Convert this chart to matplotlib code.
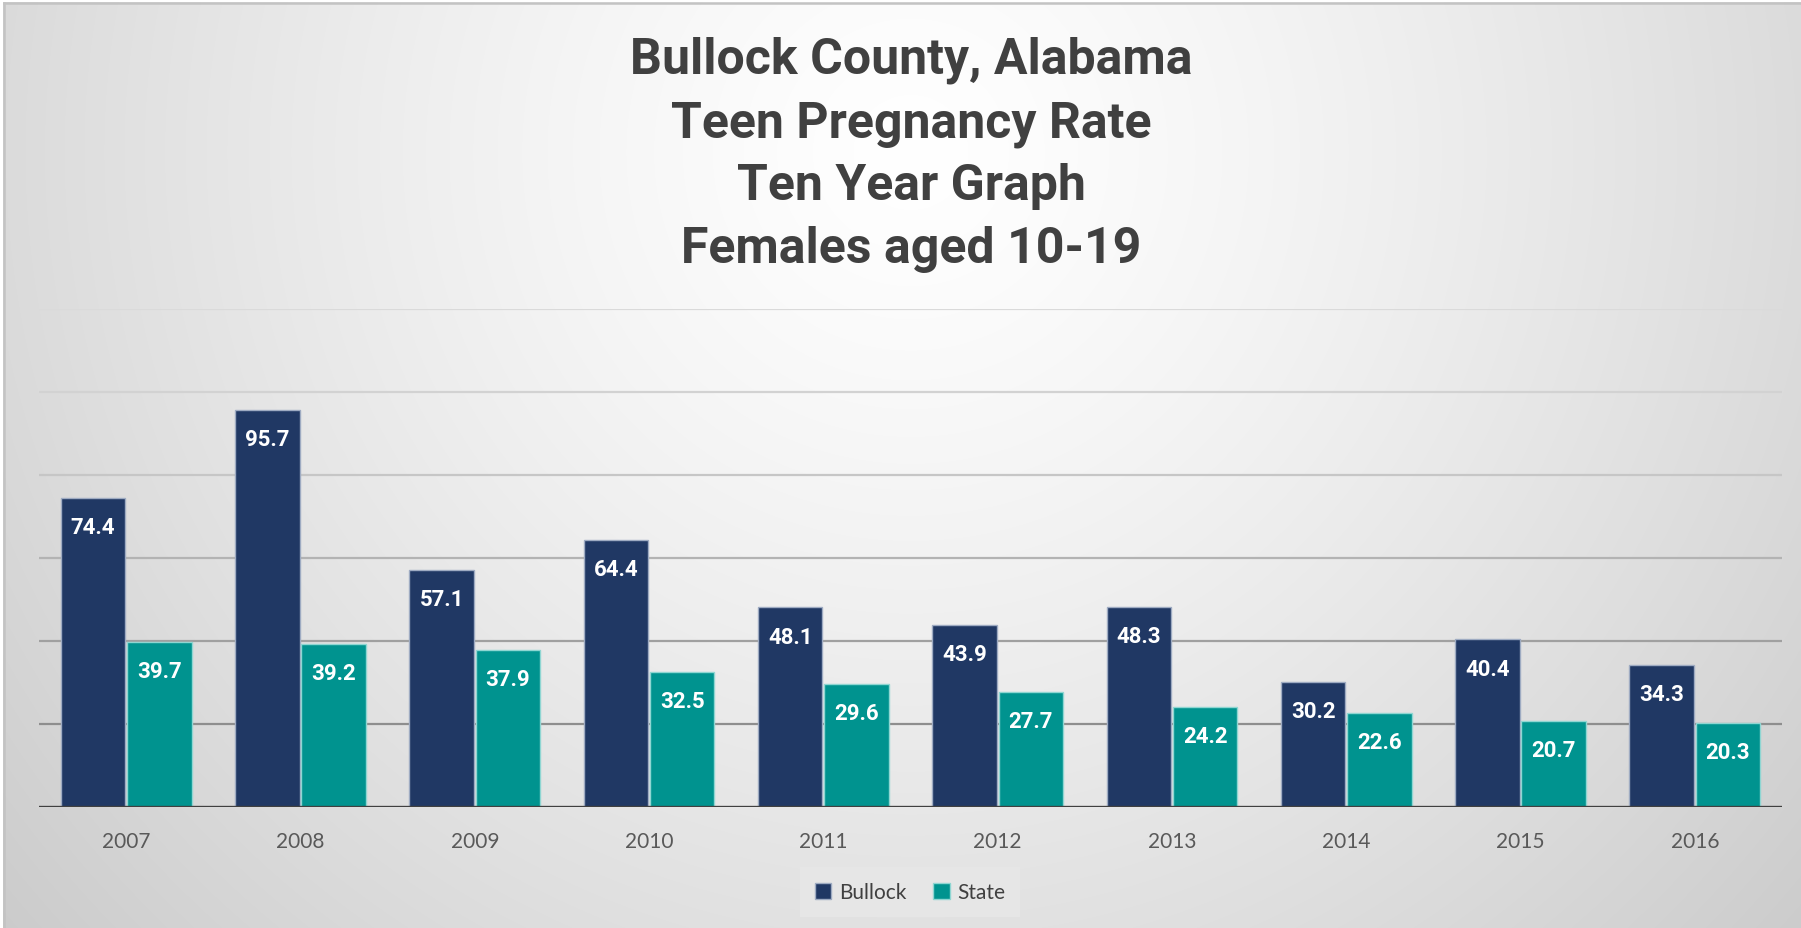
import numpy as np
import matplotlib
matplotlib.use("Agg")
import matplotlib.pyplot as plt
from matplotlib.patches import Patch
from matplotlib.lines import Line2D

# ---- data ----
years = ["2007", "2008", "2009", "2010", "2011", "2012", "2013", "2014", "2015", "2016"]
bullock = [74.4, 95.7, 57.1, 64.4, 48.1, 43.9, 48.3, 30.2, 40.4, 34.3]
state = [39.7, 39.2, 37.9, 32.5, 29.6, 27.7, 24.2, 22.6, 20.7, 20.3]
series_names = ["Bullock", "State"]
title_lines = ["Bullock County, Alabama", "Teen Pregnancy Rate", "Ten Year Graph", "Females aged 10-19"]
grid_values = [20, 40, 60, 80, 100, 120]

W, H = 1801, 929
fig = plt.figure(figsize=(W / 100, H / 100), dpi=100)
fig.patch.set_facecolor("white")

# ---- background gradient ----
bg = fig.add_axes([3 / W, 0, 1 - 3 / W, 1 - 3 / H])
bg.set_zorder(-10)
bg.axis("off")
yy, xx = np.mgrid[0:H - 3, 0:W - 3]
r = np.sqrt((xx - 907) ** 2 + ((yy - 150) * 1.0) ** 2)
val = 255 - 52 * np.clip(r / 1200, 0, 1.2) ** 1.3
img = np.dstack([val, val, val]) / 255.0
bg.imshow(np.clip(img, 0, 1), aspect="auto", extent=[0, 1, 0, 1], origin="upper", interpolation="bilinear")
bg.set_xlim(0, 1)
bg.set_ylim(0, 1)
# border lines (top and left)
fig.add_artist(Line2D([3.5 / W, 1], [1 - 4 / H, 1 - 4 / H], transform=fig.transFigure, color="#c3c3c3", lw=1.8))
fig.add_artist(Line2D([3.5 / W, 3.5 / W], [0, 1 - 4 / H], transform=fig.transFigure, color="#c3c3c3", lw=1.8))

# ---- main axes ----
ax = fig.add_axes([39 / W, 1 - 808 / H, (1782 - 39) / W, (808 - 310) / H])
ax.patch.set_alpha(0)
x = np.arange(len(years))
ax.set_xlim(-0.5, len(years) - 0.5)
ax.set_ylim(0, 120)

grid_colors = ["#8e8e8e", "#a0a0a0", "#b3b3b3", "#c6c6c6", "#d2d2d2", "#dadada"]
for gv, gc in zip(grid_values, grid_colors):
    ax.axhline(gv, color=gc, lw=1.6, zorder=1)
ax.axhline(0, color="#404040", lw=2.4, zorder=5)

navy = "#203864"
teal = "#00938f"
w = 0.37
b1 = ax.bar(x - 0.19, bullock, w, color=navy, edgecolor="#9eabc2", lw=1.0, zorder=3)
b2 = ax.bar(x + 0.19, state, w, color=teal, edgecolor="#8fd6d2", lw=1.0, zorder=3)

for bars, vals in ((b1, bullock), (b2, state)):
    for rect, v in zip(bars, vals):
        ax.annotate(f"{v:.1f}", xy=(rect.get_x() + rect.get_width() / 2, v),
                    xytext=(0, -21), textcoords="offset points", ha="center", va="center",
                    color="white", fontsize=16, fontweight="bold", family="Roboto", zorder=6)

for s in ax.spines.values():
    s.set_visible(False)
ax.set_yticks([])
ax.set_xticks(x)
ax.set_xticklabels(years, fontsize=15, family="Lato", color="#595959")
ax.tick_params(axis="x", length=0, pad=17)

# ---- title ----
baselines = [74, 138, 200, 263]
for line, yb in zip(title_lines, baselines):
    fig.text(911 / W, 1 - yb / H, line, ha="center", va="baseline", fontsize=36,
             fontweight="bold", family="Roboto", color="#404040")

# ---- legend ----
handles = [Patch(facecolor=navy, edgecolor="#9eabc2", lw=1.0),
           Patch(facecolor=teal, edgecolor="#8fd6d2", lw=1.0)]
leg = fig.legend(handles, series_names, loc="center", bbox_to_anchor=(910 / W, 1 - 893 / H),
                 ncol=2, frameon=True, fancybox=False, facecolor="#e6e6e6", edgecolor="none",
                 framealpha=1, handlelength=0.8, handleheight=0.8, handletextpad=0.35,
                 columnspacing=1.3, borderpad=0.7, prop={"family": "Lato", "size": 15})
for t in leg.get_texts():
    t.set_color("#404040")

fig.savefig("out.png", dpi=100)
